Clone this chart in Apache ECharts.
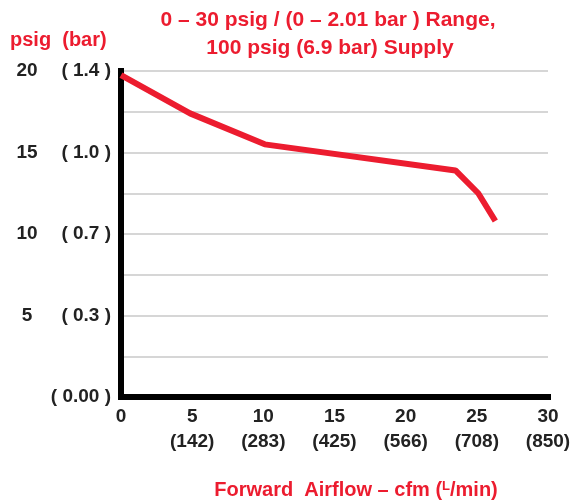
<!DOCTYPE html>
<html>
<head>
<meta charset="utf-8">
<script src="https://cdn.jsdelivr.net/npm/echarts@6/dist/echarts.min.js"></script>
<style>
  html, body { margin: 0; padding: 0; background: #fff; }
  #chart { width: 575px; height: 500px; }
</style>
</head>
<body>
<div id="chart"></div>
<script>
// forward airflow (cfm) and output pressure (psig)
const airflowCfm = [0, 4.85, 10.1, 23.5, 25.1, 26.3];
const pressurePsig = [19.75, 17.4, 15.5, 13.9, 12.5, 10.8];

// tick labels
const xTicks = [0, 5, 10, 15, 20, 25, 30];
const xTicksLpm = ['', '142', '283', '425', '566', '708', '850'];
const yTicks = [0, 5, 10, 15, 20];
const yTicksBar = ['0.00', '0.3', '0.7', '1.0', '1.4'];

const red = '#ec1c2f';
const ink = '#222';
const font = '"Liberation Sans", Arial, sans-serif';

const chart = echarts.init(document.getElementById('chart'));

chart.setOption({
  animation: false,
  grid: { left: 121, right: 27, top: 71, bottom: 103, containLabel: false },
  graphic: [
    {
      type: 'text', x: 328, y: 20,
      style: { text: '0 – 30 psig / (0 – 2.01 bar ) Range,', fill: red,
        font: 'bold 21px ' + font, align: 'center', verticalAlign: 'middle' }
    },
    {
      type: 'text', x: 330, y: 48,
      style: { text: '100 psig (6.9 bar) Supply', fill: red,
        font: 'bold 21px ' + font, align: 'center', verticalAlign: 'middle' }
    },
    {
      type: 'text', x: 10, y: 40,
      style: { text: 'psig  (bar)', fill: red,
        font: 'bold 20px ' + font, align: 'left', verticalAlign: 'middle' }
    },
    {
      type: 'text', x: 356, y: 490,
      style: {
        text: '{t|Forward  Airflow – cfm (}{s|L}{t|/min)}',
        align: 'center', verticalAlign: 'middle',
        rich: {
          t: { fill: red, font: 'bold 20px ' + font },
          s: { fill: red, font: 'bold 13px ' + font, verticalAlign: 'top', padding: [0, 0, 8, 0] }
        }
      }
    }
  ],
  xAxis: {
    type: 'value',
    min: 0,
    max: 30,
    interval: 5,
    axisLine: { show: true, lineStyle: { color: '#000', width: 6, cap: 'square' } },
    axisTick: { show: false },
    splitLine: { show: false },
    axisLabel: {
      margin: 7,
      color: ink,
      fontFamily: font,
      fontWeight: 'bold',
      fontSize: 19,
      lineHeight: 25,
      formatter: function (v) {
        const i = xTicks.indexOf(v);
        if (i < 0) return '';
        return xTicksLpm[i] ? v + '\n(' + xTicksLpm[i] + ')' : String(v);
      }
    }
  },
  yAxis: {
    type: 'value',
    min: 0,
    max: 20,
    interval: 2.5,
    axisLine: { show: true, lineStyle: { color: '#000', width: 6, cap: 'square' } },
    axisTick: { show: false },
    splitLine: { show: true, lineStyle: { color: '#d6d6d6', width: 2 } },
    axisLabel: {
      margin: 10,
      formatter: function (v) {
        const i = yTicks.indexOf(v);
        if (i < 0) return '';
        const psig = v === 0 ? ' ' : String(v);
        return '{a|' + psig + '}{b|( ' + yTicksBar[i] + ' )}';
      },
      rich: {
        a: { width: 32, align: 'center', color: ink, fontFamily: font, fontWeight: 'bold', fontSize: 19 },
        b: { width: 68, align: 'right', color: ink, fontFamily: font, fontWeight: 'bold', fontSize: 19 }
      }
    }
  },
  series: [
    {
      type: 'line',
      data: airflowCfm.map((x, i) => [x, pressurePsig[i]]),
      symbol: 'none',
      lineStyle: { color: red, width: 6 },
      z: 5
    }
  ]
});
</script>
</body>
</html>
